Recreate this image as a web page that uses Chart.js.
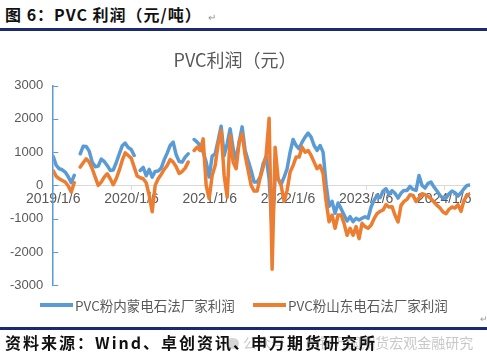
<!DOCTYPE html>
<html>
<head>
<meta charset="utf-8">
<script src="https://cdn.jsdelivr.net/npm/chart.js@4.4.1/dist/chart.umd.min.js"></script>
<style>
html, body { margin: 0; padding: 0; background: #fff; }
body { width: 487px; height: 359px; position: relative; overflow: hidden; font-family: "Noto Sans CJK SC", sans-serif; }
#head { position: absolute; left: 5px; top: 2px; font-size: 16px; font-weight: bold; color: #111; letter-spacing: 1px; white-space: nowrap; }
#head .ret { font-size: 10px; font-weight: normal; color: #999; margin-left: 6px; }
.rule { position: absolute; left: 0; width: 487px; height: 3px; background: #1c2a6e; }
#wrap { position: absolute; left: 0; top: 34px; width: 487px; height: 269px; }
#legend { position: absolute; top: 296px; left: 0; width: 487px; height: 18px; }
#legend .item { position: absolute; top: 0; display: flex; align-items: center; height: 18px; white-space: nowrap; }
#legend .swatch { width: 33px; height: 4px; margin-right: 2px; }
#legend .txt { font-size: 13.5px; color: #595959; }
#foot { position: absolute; left: 5px; top: 330px; font-size: 16px; font-weight: bold; color: #111; letter-spacing: 2px; white-space: nowrap; }
#mark { position: absolute; left: 226px; top: 332px; font-size: 14px; color: #bbb; opacity: 0.8; white-space: nowrap; }
#mark .ic { display: inline-block; width: 13px; height: 11px; border-radius: 6px; background: #ccc; margin-right: 4px; vertical-align: -1px; }
#ret2 { position: absolute; left: 480px; top: 312px; font-size: 9px; color: #999; }
</style>
</head>
<body>
<div id="head">图 6：PVC 利润（元/吨）<span class="ret">↵</span></div>
<div class="rule" style="top:28px"></div>
<div id="wrap"><canvas id="c"></canvas></div>
<div id="legend"></div>
<div id="ret2">↵</div>
<div class="rule" style="top:327px"></div>
<div id="mark"><span class="ic"></span>公众号 · 申银万国期货宏观金融研究</div>
<div id="foot">资料来源：Wind、卓创资讯、申万期货研究所</div>
<script>
// biweekly observations starting 2019/1/6 (x = days since start)
const startDate = '2019/1/6';
const stepDays = 14;

const innerMongolia = [
  870, 600, 500, 470, 400, 260, 80, 300, null, 950,
  1180, 1170, 1030, 700, 560, 580, 790, 720, 600, 450,
  460, 680, 940, 1190, 1270, 1140, 1080, 900, null, 450,
  540, 290, 480, 250, 420, 430, 520, 770, 970, 1200,
  1300, 920, 720, 700, 850, 950, null, 1380, 1300, 1200,
  1000, 700, 250, 880, 950, 1350, 1780, 900, 1250, 1700,
  1100, 760, 1300, 1760, 1050, 750, 450, 100, 100, 250,
  650, 850, 200, -1400, 250, 200, 30, 250, 500, 1000,
  1380, 1200, 1100, 1300, 1450, 1570, 1450, 1200, 1050, 1200,
  1000, 30, -630, -480, -840, -530, -700, -890, -1070, -940,
  -1090, -990, -1040, -990, -940, -990, -650, -450, -300, -370,
  -170, -100, -270, -160, -240, -380, -230, -150, -150, -30,
  -120, -150, 300, 0, -80, 60, 100, -50, -170, -300,
  -390, -380, -250, -170, -220, -320, -220, -100, 0, 10
];

const shandong = [
  440, 270, 200, 150, 100, -20, -200, 80, null, 550,
  680, 800, 700, 500, 250, 0, 100, 250, 350, 200,
  20, 200, 450, 750, 980, 900, 820, 550, 280, 230,
  200, 80, -300, -790, 0, 200, 330, 480, 600, 780,
  700, 560, 360, 420, 520, 700, null, 1050, 1150, 1050,
  1400, 0, -400, 300, 600, 1250, 1650, 300, -350, 1500,
  700, 500, 1300, 1550, 900, 450, 0, -170, -170, 230,
  540, 900, 2020, -2520, 1150, 200, 0, -480, -150, 400,
  600, 850, 850, 1150, 1000, 1050, 900, 700, 500, 600,
  350, -480, -1090, -890, -1290, -890, -890, -1140, -1500, -1290,
  -1500, -1240, -1600, -1140, -1240, -1290, -1200, -1000, -850, -780,
  -740, -580, -650, -640, -900, -1100, -600, -480, -420, -280,
  -300, -480, -380, -250, -280, -330, -400, -500, -600, -680,
  -800, -850, -720, -650, -680, -580, -780, -450, -300, -250
];

const seriesNames = ['PVC粉内蒙电石法厂家利润', 'PVC粉山东电石法厂家利润'];
const seriesColors = ['#5b9bd5', '#ed7d31'];
const tickLabels = ['2019/1/6', '2020/1/6', '2021/1/6', '2022/1/6', '2023/1/6', '2024/1/6'];
const tickDays = [0, 365, 731, 1096, 1461, 1826];

const toPoints = arr => arr.map((v, i) => ({ x: i * stepDays, y: v }));
const lastDay = (innerMongolia.length - 1) * stepDays;

const sansLatin = '"Liberation Sans", Arial, sans-serif';

// short tick marks on the inside of the value axis
const innerTicks = {
  id: 'innerTicks',
  beforeDatasetsDraw(chart) {
    const ys = chart.scales.y;
    const ctx = chart.ctx;
    const x0 = chart.chartArea.left;
    ctx.save();
    ctx.strokeStyle = '#5b9bd5';
    ctx.lineWidth = 1;
    ys.ticks.forEach(t => {
      const y = Math.round(ys.getPixelForValue(t.value)) + 0.5;
      ctx.beginPath();
      ctx.moveTo(x0, y);
      ctx.lineTo(x0 + 5, y);
      ctx.stroke();
    });
    ctx.restore();
  }
};

new Chart(document.getElementById('c'), {
  type: 'line',
  data: {
    datasets: [
      {
        label: seriesNames[0],
        data: toPoints(innerMongolia),
        borderColor: seriesColors[0],
        backgroundColor: seriesColors[0],
        borderWidth: 3.5,
        pointRadius: 0,
        spanGaps: false,
        borderJoinStyle: 'round',
        borderCapStyle: 'round',
        order: 2
      },
      {
        label: seriesNames[1],
        data: toPoints(shandong),
        borderColor: seriesColors[1],
        backgroundColor: seriesColors[1],
        borderWidth: 3.5,
        pointRadius: 0,
        spanGaps: false,
        borderJoinStyle: 'round',
        borderCapStyle: 'round',
        order: 1
      }
    ]
  },
  options: {
    responsive: true,
    maintainAspectRatio: false,
    animation: false,
    devicePixelRatio: 1,
    layout: { padding: { left: 0, right: 17, top: 0, bottom: 2 } },
    plugins: {
      title: {
        display: true,
        text: 'PVC利润（元）',
        color: '#595959',
        font: { family: '"Noto Sans CJK SC", sans-serif', size: 18, weight: 'normal' },
        padding: { top: 15, bottom: 15 }
      },
      legend: { display: false },
      tooltip: { enabled: false }
    },
    scales: {
      x: {
        type: 'linear',
        position: { y: 0 },
        min: 0,
        max: lastDay,
        afterBuildTicks: s => { s.ticks = tickDays.map(v => ({ value: v })); },
        ticks: {
          callback: (v, i) => tickLabels[i],
          autoSkip: false,
          maxRotation: 0,
          color: '#595959',
          font: { family: sansLatin, size: 14 },
          padding: 1
        },
        grid: { drawOnChartArea: false, drawTicks: true, tickLength: 4, color: '#d9d9d9' },
        border: { color: '#d9d9d9', width: 1 }
      },
      y: {
        min: -3000,
        max: 3000,
        ticks: {
          stepSize: 1000,
          callback: v => String(v),
          color: '#595959',
          font: { family: sansLatin, size: 13 },
          padding: 10
        },
        grid: { display: false, drawTicks: false },
        border: { color: '#5b9bd5', width: 1.5 }
      }
    }
  },
  plugins: [innerTicks]
});

// legend below the plot
const legendLeft = [40, 253];
const legendEl = document.getElementById('legend');
seriesNames.forEach((name, i) => {
  const item = document.createElement('div');
  item.className = 'item';
  item.style.left = legendLeft[i] + 'px';
  item.innerHTML = `<div class="swatch" style="background:${seriesColors[i]}"></div><span class="txt">${name}</span>`;
  legendEl.appendChild(item);
});
</script>
</body>
</html>
